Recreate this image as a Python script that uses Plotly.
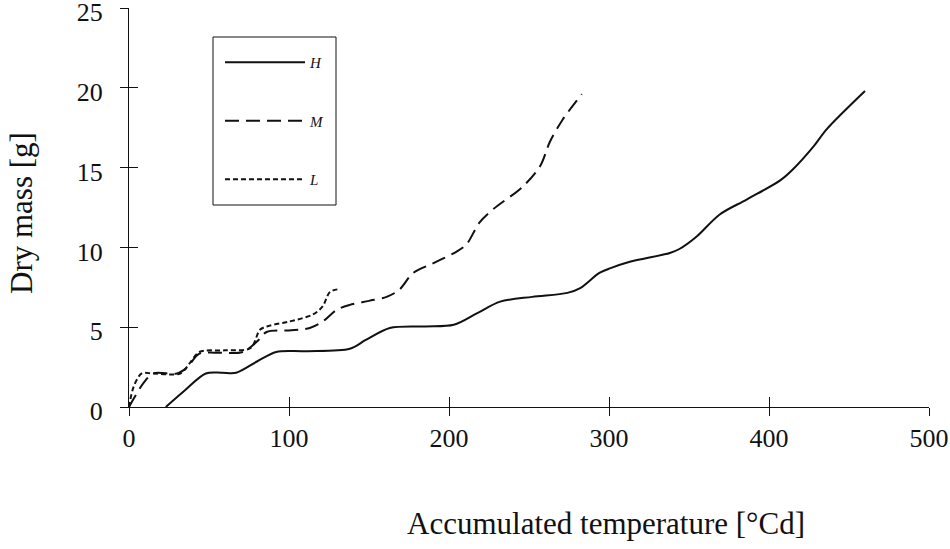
import plotly.graph_objects as go

# ---- data ----
h_x = [23, 35, 48, 58, 67, 80, 92, 110, 138, 148, 163, 185, 203, 218, 232, 252, 274, 282, 294, 301, 313, 338, 344, 355, 369, 386, 407, 415, 428, 436, 460]
h_y = [0, 1.05, 2.1, 2.15, 2.15, 2.85, 3.45, 3.5, 3.65, 4.2, 4.95, 5.05, 5.15, 5.9, 6.6, 6.9, 7.15, 7.45, 8.4, 8.7, 9.1, 9.65, 9.9, 10.7, 12.05, 13.0, 14.2, 14.9, 16.35, 17.4, 19.8]

m_x = [0, 4, 9, 15, 30, 36, 44, 55, 71, 80, 86, 100, 113, 121, 130, 138, 150, 161, 169, 177.6, 190, 205, 211, 219, 227.7, 246, 257, 263, 271, 283]
m_y = [0, 0.7, 1.5, 2.1, 2.1, 2.45, 3.35, 3.4, 3.45, 4.1, 4.7, 4.8, 4.95, 5.35, 6.1, 6.4, 6.65, 6.9, 7.35, 8.4, 9.0, 9.75, 10.2, 11.55, 12.4, 13.8, 15.1, 16.6, 18.0, 19.6]

l_x = [0, 3, 8, 15, 32, 38, 44, 60, 76, 82, 88, 100, 115, 121, 125.6, 132]
l_y = [0, 1.3, 2.1, 2.1, 2.1, 2.75, 3.45, 3.55, 3.7, 4.85, 5.1, 5.35, 5.8, 6.3, 7.2, 7.4]

series_names = ["H", "M", "L"]
x_ticks = [0, 100, 200, 300, 400, 500]
y_ticks = [0, 5, 10, 15, 20, 25]
x_title = "Accumulated temperature [°Cd]"
y_title = "Dry mass [g]"

SERIF = "Liberation Serif, Times New Roman, serif"
INK = "#111111"

fig = go.Figure()
styles = [
    (h_x, h_y, "solid"),
    (m_x, m_y, "14px,7px"),
    (l_x, l_y, "5px,3px"),
]
for name, (xs, ys, dash) in zip(series_names, styles):
    fig.add_trace(go.Scatter(
        x=xs, y=ys, name=name, mode="lines", legendgroup=name,
        line=dict(color=INK, width=2, dash=dash, shape="spline", smoothing=0.9),
    ))

# empty trace so that the overlay axes (inside half of crossing ticks) exist
fig.add_trace(go.Scatter(x=[], y=[], xaxis="x2", yaxis="y2", showlegend=False, hoverinfo="skip"))

tickfont = dict(family=SERIF, size=26, color=INK)
fig.update_layout(
    width=950, height=549,
    margin=dict(l=129, r=21, t=8, b=142, autoexpand=False),
    paper_bgcolor="white", plot_bgcolor="white",
    showlegend=True,
    legend=dict(
        x=(220 - 129) / 800, y=(407 - 46) / 399, xanchor="left", yanchor="top",
        bgcolor="rgba(0,0,0,0)", borderwidth=0,
        font=dict(family=SERIF, size=15, color=INK, style="italic"),
        itemwidth=80, tracegroupgap=36,
    ),
    xaxis=dict(
        range=[0, 500], tickvals=x_ticks, ticktext=[str(v) for v in x_ticks],
        showline=True, linecolor=INK, linewidth=1, showgrid=False, zeroline=False,
        ticks="outside", ticklen=8, tickcolor=INK, tickwidth=1, automargin=False,
        tickfont=tickfont, ticklabelstandoff=0, ticklabeloverflow="allow",
    ),
    yaxis=dict(
        range=[0, 25], tickvals=y_ticks, ticktext=[str(v) for v in y_ticks],
        showline=True, linecolor=INK, linewidth=1, showgrid=False, zeroline=False,
        ticks="outside", ticklen=8, tickcolor=INK, tickwidth=1, automargin=False,
        tickfont=tickfont, ticklabelstandoff=12, ticklabelshift=4,
        ticklabeloverflow="allow",
    ),
    xaxis2=dict(
        overlaying="x", anchor="y2", range=[0, 500], tickvals=x_ticks, automargin=False,
        showticklabels=False, showline=False, showgrid=False, zeroline=False,
        ticks="inside", ticklen=10, tickcolor=INK, tickwidth=1, side="bottom",
    ),
    yaxis2=dict(
        overlaying="y", anchor="x2", range=[0, 25], tickvals=y_ticks, automargin=False,
        showticklabels=False, showline=False, showgrid=False, zeroline=False,
        ticks="inside", ticklen=9, tickcolor=INK, tickwidth=1, side="left",
    ),
    annotations=[
        dict(text=x_title, xref="paper", yref="paper", x=(606 - 129) / 800, y=(407 - 523) / 399,
             xanchor="center", yanchor="middle", showarrow=False,
             font=dict(family=SERIF, size=31, color=INK)),
        dict(text=y_title, xref="paper", yref="paper", x=(21 - 129) / 800, y=(407 - 213) / 399,
             xanchor="center", yanchor="middle", showarrow=False, textangle=-90,
             font=dict(family=SERIF, size=31, color=INK)),
    ],
    shapes=[
        dict(type="rect", xref="paper", yref="paper",
             x0=(213 - 129) / 800, x1=(336 - 129) / 800,
             y0=(407 - 205) / 399, y1=(407 - 37) / 399,
             line=dict(color=INK, width=1), fillcolor="rgba(0,0,0,0)"),
    ],
)

fig.write_html("out.html", config={"displayModeBar": False},
               post_script=["document.body.style.margin='0';"])
